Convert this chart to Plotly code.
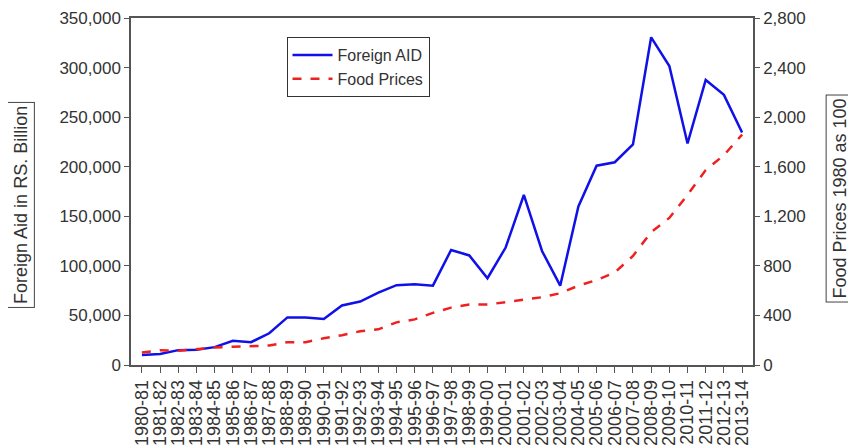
import plotly.graph_objects as go

years = ["1980-81","1981-82","1982-83","1983-84","1984-85","1985-86","1986-87","1987-88",
         "1988-89","1989-90","1990-91","1991-92","1992-93","1993-94","1994-95","1995-96",
         "1996-97","1997-98","1998-99","1999-00","2000-01","2001-02","2002-03","2003-04",
         "2004-05","2005-06","2006-07","2007-08","2008-09","2009-10","2010-11","2011-12",
         "2012-13","2013-14"]

foreign_aid = [10000, 11000, 15000, 15500, 18000, 24500, 23000, 32000,
               48000, 48000, 46500, 60000, 64000, 73000, 80500, 81500,
               80000, 116000, 110500, 87500, 118500, 171500, 115000, 80000,
               160000, 201000, 204500, 222500, 330500, 301500, 223500, 287500,
               272500, 234500]

food_prices = [100, 120, 115, 128, 141, 147, 150, 157,
               184, 184, 216, 240, 272, 288, 344, 368,
               421, 463, 488, 488, 507, 525, 547, 579,
               640, 685, 747, 880, 1072, 1187, 1373, 1573,
               1693, 1859]

left_ticks = [0, 50000, 100000, 150000, 200000, 250000, 300000, 350000]
right_ticks = [0, 400, 800, 1200, 1600, 2000, 2400, 2800]

FONT = "Liberation Sans, Arial, sans-serif"
tickfont = dict(family=FONT, size=17, color="#333333")

fig = go.Figure()
fig.add_trace(go.Scatter(x=years, y=foreign_aid, name="Foreign AID", mode="lines",
                         line=dict(color="#1010e8", width=2.5)))
fig.add_trace(go.Scatter(x=years, y=food_prices, name="Food Prices", mode="lines",
                         yaxis="y2", line=dict(color="#ee2020", width=2.5, dash="dash")))

fig.update_layout(
    width=856, height=448,
    margin=dict(l=123, r=111, t=10, b=91),
    paper_bgcolor="white", plot_bgcolor="white",
    showlegend=True,
    legend=dict(x=0.25, y=0.945, xanchor="left", yanchor="top",
                bordercolor="#333333", borderwidth=1, bgcolor="white",
                font=dict(family=FONT, size=16, color="#333333"),
                tracegroupgap=0, itemwidth=40),
    xaxis=dict(type="category", range=[-0.6, 33.6], tickmode="linear", tick0=0, dtick=1,
               showline=True, linecolor="#555555",
               linewidth=1.5, mirror=True, ticks="outside", ticklen=6, tickcolor="#555555",
               tickangle=-90, tickfont=dict(family=FONT, size=18, color="#333333"),
               showgrid=False, zeroline=False, automargin=False),
    yaxis=dict(range=[0, 350000], tickvals=left_ticks, tickformat=",d", showline=True,
               linecolor="#555555", linewidth=1.5, ticks="outside", ticklen=5,
               tickcolor="#555555", tickfont=tickfont, showgrid=False, zeroline=False,
               automargin=False, ticklabeloverflow="allow"),
    yaxis2=dict(range=[0, 2800], tickvals=right_ticks, tickformat=",d", overlaying="y",
                side="right", showline=True, linecolor="#555555", linewidth=1.5,
                ticks="outside", ticklen=5, tickcolor="#555555", tickfont=tickfont,
                showgrid=False, zeroline=False, automargin=False,
                ticklabeloverflow="allow"),
    annotations=[
        dict(text="Foreign Aid in RS. Billion", xref="paper", yref="paper",
             x=-0.177, y=0.461, xanchor="center", yanchor="middle",
             textangle=-90, showarrow=False,
             font=dict(family=FONT, size=18, color="#333333"),
             bordercolor="#444444", borderwidth=1, borderpad=3, bgcolor="white"),
        dict(text="Food Prices 1980 as 100", xref="paper", yref="paper",
             x=1.14, y=0.48, xanchor="center", yanchor="middle",
             textangle=-90, showarrow=False,
             font=dict(family=FONT, size=18, color="#333333"),
             bordercolor="#444444", borderwidth=1, borderpad=3, bgcolor="white"),
    ],
)

fig.write_html("out.html")
